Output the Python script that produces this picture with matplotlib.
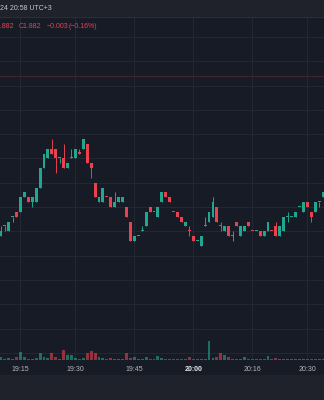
import numpy as np
import matplotlib.pyplot as plt
from matplotlib.lines import Line2D
from matplotlib.patches import Rectangle

# 1-minute candles
opens = [1.849, 1.851, 1.850, 1.853, 1.854, 1.854, 1.857, 1.857, 1.856, 1.856,
         1.859, 1.863, 1.865, 1.867, 1.867, 1.865, 1.865, 1.863, 1.865, 1.865,
         1.866, 1.867, 1.868, 1.864, 1.860, 1.856, 1.856, 1.857, 1.857, 1.855,
         1.856, 1.856, 1.855, 1.852, 1.848, 1.849, 1.850, 1.851, 1.855, 1.854,
         1.853, 1.856, 1.858, 1.857, 1.854, 1.854, 1.853, 1.851, 1.850, 1.849,
         1.848, 1.847, 1.851, 1.852, 1.853, 1.855, 1.851, 1.850, 1.851, 1.849,
         1.852, 1.849, 1.850, 1.852, 1.850, 1.850, 1.850, 1.849, 1.850, 1.850,
         1.851, 1.849, 1.850, 1.853, 1.853, 1.853, 1.855, 1.854, 1.856, 1.854,
         1.854, 1.856, 1.857]
highs = [1.851, 1.851, 1.852, 1.853, 1.854, 1.857, 1.858, 1.857, 1.857, 1.859,
         1.863, 1.866, 1.867, 1.869, 1.867, 1.865, 1.868, 1.864, 1.867, 1.867,
         1.867, 1.869, 1.868, 1.864, 1.860, 1.857, 1.859, 1.857, 1.857, 1.858,
         1.857, 1.857, 1.855, 1.852, 1.849, 1.849, 1.851, 1.854, 1.855, 1.854,
         1.855, 1.858, 1.858, 1.857, 1.854, 1.854, 1.853, 1.852, 1.851, 1.849,
         1.848, 1.849, 1.853, 1.854, 1.857, 1.855, 1.852, 1.851, 1.851, 1.850,
         1.852, 1.851, 1.851, 1.852, 1.850, 1.850, 1.850, 1.850, 1.852, 1.850,
         1.852, 1.851, 1.853, 1.854, 1.853, 1.854, 1.855, 1.856, 1.856, 1.854,
         1.856, 1.856, 1.858]
lows = [1.849, 1.850, 1.850, 1.852, 1.853, 1.854, 1.857, 1.856, 1.855, 1.856,
        1.859, 1.863, 1.865, 1.866, 1.862, 1.864, 1.863, 1.863, 1.865, 1.865,
        1.866, 1.867, 1.864, 1.861, 1.857, 1.856, 1.856, 1.857, 1.855, 1.855,
        1.856, 1.856, 1.853, 1.848, 1.848, 1.849, 1.850, 1.851, 1.854, 1.854,
        1.853, 1.856, 1.857, 1.856, 1.854, 1.853, 1.852, 1.851, 1.849, 1.848,
        1.848, 1.847, 1.851, 1.852, 1.853, 1.852, 1.850, 1.850, 1.849, 1.848,
        1.851, 1.849, 1.850, 1.851, 1.850, 1.850, 1.849, 1.849, 1.850, 1.850,
        1.849, 1.849, 1.850, 1.852, 1.853, 1.853, 1.855, 1.854, 1.855, 1.852,
        1.854, 1.855, 1.857]
closes = [1.850, 1.851, 1.852, 1.853, 1.853, 1.857, 1.858, 1.856, 1.857, 1.859,
          1.863, 1.866, 1.867, 1.866, 1.865, 1.865, 1.863, 1.864, 1.865, 1.867,
          1.866, 1.869, 1.864, 1.863, 1.857, 1.857, 1.859, 1.857, 1.855, 1.856,
          1.857, 1.857, 1.853, 1.848, 1.849, 1.849, 1.850, 1.854, 1.854, 1.854,
          1.855, 1.858, 1.857, 1.856, 1.854, 1.853, 1.852, 1.852, 1.850, 1.848,
          1.848, 1.849, 1.851, 1.854, 1.856, 1.852, 1.851, 1.851, 1.849, 1.849,
          1.851, 1.851, 1.851, 1.851, 1.850, 1.850, 1.849, 1.850, 1.852, 1.850,
          1.849, 1.851, 1.853, 1.853, 1.853, 1.854, 1.855, 1.856, 1.855, 1.853,
          1.856, 1.856, 1.858]
volumes = [120, 40, 80, 40, 120, 320, 120, 40, 40, 80,
           280, 120, 80, 280, 120, 40, 400, 200, 200, 80,
           40, 80, 280, 360, 280, 120, 80, 40, 80, 40,
           40, 40, 280, 80, 120, 40, 40, 120, 40, 40,
           160, 80, 40, 40, 40, 40, 40, 40, 120, 40,
           40, 40, 40, 760, 80, 120, 280, 200, 120, 40,
           40, 40, 120, 40, 40, 40, 40, 40, 160, 40,
           80, 40, 40, 40, 40, 40, 40, 40, 40, 40,
           40, 40, 40]

tick_bars = [5, 19, 34, 49, 64, 78]
tick_labels = ['19:15', '19:30', '19:45', '20:00', '20:16', '20:30']
last_price = 1.882
header_time = '24 20:58 UTC+3'
legend_parts = ['1.882', 'C1.882', '\u22120.003', '(\u22120.16%)']

BG = '#171b25'
PANEL = '#1f222a'
GREEN = '#22a68f'
RED = '#e8414f'
GRID = '#232732'

W, H = 324, 400
fig = plt.figure(figsize=(W / 100, H / 100), dpi=100)
fig.patch.set_facecolor(PANEL)

# main chart pane (px 17..360 from top)
ax = fig.add_axes([0, 1 - 360 / H, 1, (360 - 17) / H])
ax.set_facecolor(BG)
fig.add_artist(Rectangle((0, 1 - 375 / H), 1, 15 / H, transform=fig.transFigure,
                         facecolor=BG, edgecolor='none', zorder=0))
fig.add_artist(Line2D([0, 1], [1 - 16.5 / H] * 2, transform=fig.transFigure,
                      color='#2b2e37', lw=0.8))

o = np.array(opens)
c = np.array(closes)
hi = np.array(highs)
lo = np.array(lows)
x = np.arange(len(o))

prev = np.concatenate([[c[0]], c[:-1]])
up = np.where(c != o, c > o, c >= prev)
cols = np.where(up, GREEN, RED)

ax.vlines(x, lo, hi, colors=cols, lw=0.7, zorder=3)
body_lo = np.minimum(o, c)
body_h = np.maximum(np.abs(c - o), 0.00022)
ax.bar(x, body_h, bottom=body_lo, width=0.74, color=cols, linewidth=0, zorder=4)

ax.axhline(last_price, color='#3e2631', lw=0.9, zorder=2)

ax.set_xlim(-0.19, 82.25)
ax.set_ylim(1.823519, 1.894095)
ax.set_yticks(np.arange(1.825, 1.8941, 0.005))
ax.set_xticks(tick_bars)
ax.set_xticklabels(tick_labels, fontsize=5, color='#b2b5be', family='Liberation Sans')
ax.get_xticklabels()[3].set_color('#e6e8ee')
ax.get_xticklabels()[3].set_fontweight('bold')
ax.tick_params(axis='x', length=0, pad=4.2)
ax.tick_params(axis='y', length=0, labelleft=False)
ax.grid(True, color=GRID, lw=0.8, zorder=0)
for s in ax.spines.values():
    s.set_visible(False)

# volume overlay on the same time axis
vax = ax.twinx()
vax.set_ylim(0, 343 * 40)
vax.bar(x, volumes, width=0.74, color=cols, alpha=0.6, linewidth=0, zorder=2)
vax.set_axis_off()

# header texts
fig.text(0.5 / W, 1 - 8 / H, header_time, fontsize=5, color='#c3c6ce',
         family='Liberation Sans', va='center', ha='left')
for txt, px in zip(legend_parts, [-3.6, 19, 47, 69]):
    fig.text(px / W, 1 - 26 / H, txt, fontsize=5, color=RED,
             family='Liberation Sans', va='center', ha='left')

fig.savefig('out.png', dpi=100, facecolor=fig.get_facecolor())
